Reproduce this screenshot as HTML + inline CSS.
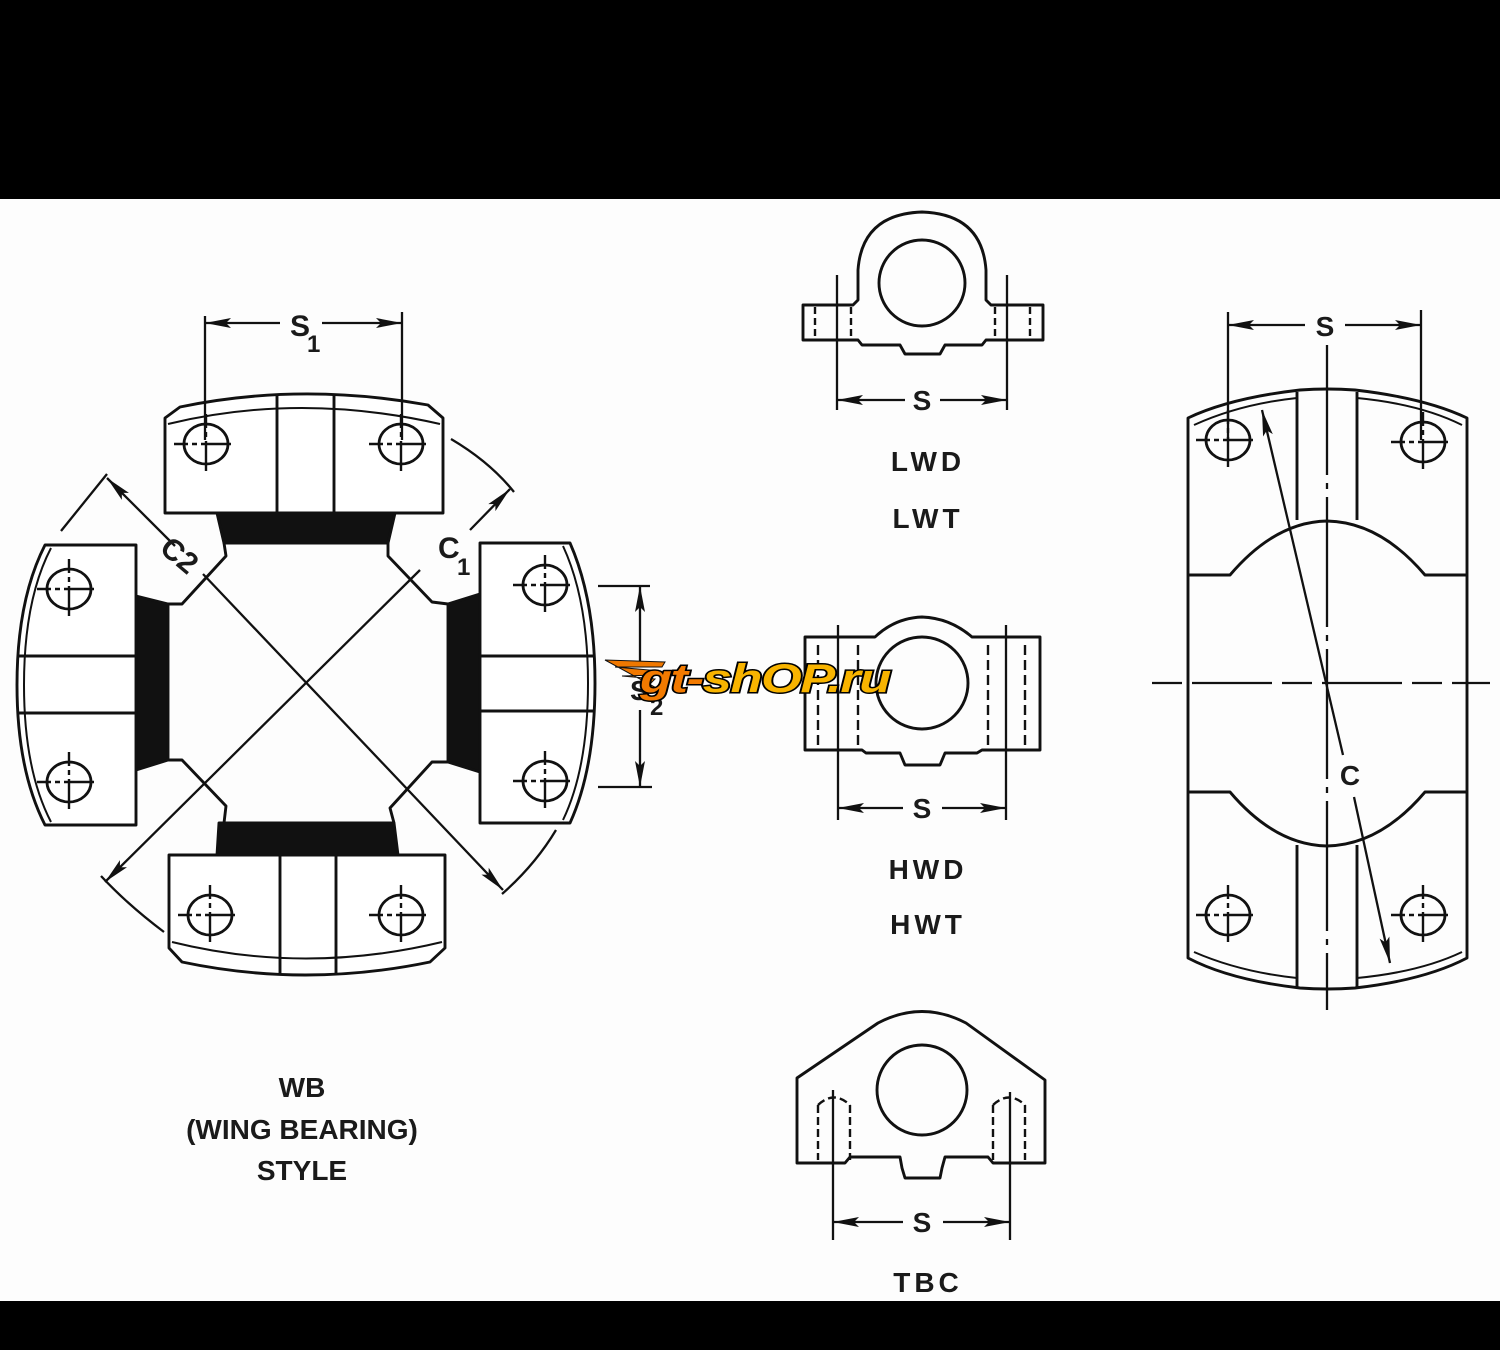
<!DOCTYPE html>
<html><head><meta charset="utf-8"><style>
html,body{margin:0;padding:0;background:#fff;}
svg{display:block;}
text{font-family:"Liberation Sans",sans-serif;fill:#1a1a1a;}
</style></head><body>
<svg width="1500" height="1350" viewBox="0 0 1500 1350" xmlns="http://www.w3.org/2000/svg">
<defs>
<marker id="ar" viewBox="0 0 26 12" refX="26" refY="6" markerWidth="26" markerHeight="12" markerUnits="userSpaceOnUse" orient="auto">
<path d="M0,1 L26,6 L0,11 L5,6 Z" fill="#111"/>
</marker>
<g id="hole">
<ellipse cx="0" cy="0" rx="22" ry="20" fill="none" stroke="#111" stroke-width="2.8"/>
<line x1="-32" y1="0" x2="32" y2="0" stroke="#111" stroke-width="2.4" stroke-dasharray="14,4,5,4,30"/>
<line x1="0" y1="-30" x2="0" y2="30" stroke="#111" stroke-width="2.4" stroke-dasharray="14,4,5,4,30"/>
</g>
</defs>
<rect x="0" y="0" width="1500" height="1350" fill="#fdfdfd"/>
<rect x="0" y="0" width="1500" height="199" fill="#000"/>
<rect x="0" y="1301" width="1500" height="49" fill="#000"/>

<g fill="none" stroke="#111" stroke-width="2.9" stroke-linejoin="round">
<path d="M217,513 L395,513 L388,543 L224,543 Z" fill="#111"/>
<path d="M219,823 L394,823 L398,855 L217,855 Z" fill="#111"/>
<path d="M136,596 L168,604 L168,760 L136,770 Z" fill="#111"/>
<path d="M448,604 L480,594 L480,772 L448,762 Z" fill="#111"/>
<path d="M224,543 L226,556 L182,604 L168,604"/>
<path d="M388,543 L388,556 L432,602 L448,604"/>
<path d="M168,760 L182,760 L226,806 L224,823"/>
<path d="M448,762 L432,762 L390,808 L394,823"/>
<path d="M165,513 L165,418 L180,407 Q300,382 428,405 L443,418 L443,513 Z" fill="#fff"/>
<path d="M168,424 Q300,392 440,424" stroke-width="2"/>
<line x1="277" y1="395" x2="277" y2="513"/><line x1="334" y1="395" x2="334" y2="513"/>
<path d="M169,855 L445,855 L445,948 L430,962 Q305,988 182,962 L169,948 Z" fill="#fff"/>
<path d="M172,942 Q305,975 442,942" stroke-width="2"/>
<line x1="280" y1="855" x2="280" y2="975"/><line x1="336" y1="855" x2="336" y2="975"/>
<path d="M136,545 L45,545 Q17,600 17,685 Q17,770 45,825 L136,825 Z" fill="#fff"/>
<path d="M51,548 Q24,600 24,685 Q24,770 51,822" stroke-width="2"/>
<line x1="18" y1="656" x2="136" y2="656"/><line x1="18" y1="713" x2="136" y2="713"/>
<path d="M480,543 L570,543 Q595,600 595,683 Q595,768 570,823 L480,823 Z" fill="#fff"/>
<path d="M563,546 Q588,600 588,683 Q588,768 563,820" stroke-width="2"/>
<line x1="480" y1="656" x2="595" y2="656"/><line x1="480" y1="711" x2="595" y2="711"/>
</g>
<use href="#hole" x="206" y="444"/><use href="#hole" x="401" y="444"/>
<use href="#hole" x="210" y="915"/><use href="#hole" x="401" y="915"/>
<use href="#hole" x="69" y="589"/><use href="#hole" x="69" y="782"/>
<use href="#hole" x="545" y="585"/><use href="#hole" x="545" y="781"/>

<g fill="none" stroke="#111" stroke-width="2.3">
<line x1="175" y1="546" x2="107" y2="478" marker-end="url(#ar)"/>
<line x1="203" y1="574" x2="503" y2="890" marker-end="url(#ar)"/>
<line x1="420" y1="570" x2="105" y2="882" marker-end="url(#ar)"/>
<line x1="470" y1="530" x2="510" y2="489" marker-end="url(#ar)"/>
<path d="M61,531 L107,474"/>
<path d="M451,439 Q490,462 514,492"/>
<path d="M101,876 Q128,905 164,932"/>
<path d="M556,830 Q535,865 502,894"/>
<line x1="205" y1="316" x2="205" y2="440"/><line x1="402" y1="312" x2="402" y2="440"/>
<line x1="280" y1="323" x2="205" y2="323" marker-end="url(#ar)"/>
<line x1="322" y1="323" x2="402" y2="323" marker-end="url(#ar)"/>
<line x1="598" y1="586" x2="650" y2="586"/><line x1="598" y1="787" x2="652" y2="787"/>
<line x1="640" y1="665" x2="640" y2="586" marker-end="url(#ar)"/>
<line x1="640" y1="710" x2="640" y2="787" marker-end="url(#ar)"/>
</g>
<g font-weight="bold">
<text x="290" y="336" font-size="30">S</text><text x="307" y="352" font-size="24">1</text>
<text x="160" y="566" font-size="30" transform="rotate(40 180 556)">C2</text>
<text x="438" y="558" font-size="30">C</text><text x="457" y="575" font-size="24">1</text>
<text x="630" y="700" font-size="28" fill="#555">S</text><text x="650" y="715" font-size="24" fill="#555">2</text>
</g>
<g font-weight="bold" font-size="28" text-anchor="middle">
<text x="302" y="1097">WB</text>
<text x="302" y="1139">(WING BEARING)</text>
<text x="302" y="1180">STYLE</text>
</g>

<!-- LWD -->
<g fill="none" stroke="#111" stroke-width="2.9" stroke-linejoin="round">
<path d="M803,305 L853,305 L858,300 L858,270 Q862,214 922,212 Q982,214 986,270 L986,300 L991,305 L1043,305 L1043,340 L986,340 L982,345 L945,345 L940,354 L905,354 L900,345 L862,345 L858,340 L803,340 Z"/>
<circle cx="922" cy="283" r="43"/>
<g stroke-width="2.4" stroke-dasharray="7,4"><line x1="815" y1="307" x2="815" y2="340"/><line x1="851" y1="307" x2="851" y2="340"/><line x1="995" y1="307" x2="995" y2="340"/><line x1="1030" y1="307" x2="1030" y2="340"/></g>
</g>
<g fill="none" stroke="#111" stroke-width="2.3">
<line x1="837" y1="275" x2="837" y2="410"/><line x1="1007" y1="275" x2="1007" y2="410"/>
<line x1="905" y1="400" x2="837" y2="400" marker-end="url(#ar)"/>
<line x1="940" y1="400" x2="1007" y2="400" marker-end="url(#ar)"/>
</g>
<g font-weight="bold">
<text x="922" y="410" font-size="28" text-anchor="middle">S</text>
<text x="922" y="818" font-size="28" text-anchor="middle">S</text>
<text x="922" y="1232" font-size="28" text-anchor="middle">S</text>
<text x="1325" y="336" font-size="28" text-anchor="middle">S</text>
<text x="1350" y="785" font-size="28" text-anchor="middle">C</text>
</g>
<g font-size="28" font-weight="bold" text-anchor="middle" letter-spacing="4">
<text x="928" y="471">LWD</text><text x="928" y="528">LWT</text>
<text x="928" y="879">HWD</text><text x="928" y="934">HWT</text>
<text x="928" y="1292">TBC</text>
</g>

<!-- HWD -->
<g fill="none" stroke="#111" stroke-width="2.9" stroke-linejoin="round">
<path d="M805,637 L875,637 Q895,618 922,617 Q950,618 972,637 L1040,637 L1040,750 L982,750 L977,753 L945,753 L940,765 L905,765 L900,753 L866,753 L862,750 L805,750 Z"/>
<circle cx="922" cy="683" r="46"/>
<g stroke-width="2.4" stroke-dasharray="10,5"><line x1="818" y1="645" x2="818" y2="750"/><line x1="858" y1="645" x2="858" y2="750"/><line x1="988" y1="645" x2="988" y2="750"/><line x1="1025" y1="645" x2="1025" y2="750"/></g>
</g>
<g fill="none" stroke="#111" stroke-width="2.3">
<line x1="838" y1="625" x2="838" y2="820"/><line x1="1006" y1="625" x2="1006" y2="820"/>
<line x1="903" y1="808" x2="838" y2="808" marker-end="url(#ar)"/>
<line x1="942" y1="808" x2="1006" y2="808" marker-end="url(#ar)"/>
</g>

<!-- TBC -->
<g fill="none" stroke="#111" stroke-width="2.9" stroke-linejoin="round">
<path d="M797,1078 L878,1023 Q922,1000 966,1023 L1045,1080 L1045,1163 L993,1163 L988,1157 L945,1157 L942,1168 L940,1178 L905,1178 L902,1168 L900,1157 L850,1157 L845,1163 L797,1163 Z"/>
<circle cx="922" cy="1090" r="45"/>
<g stroke-width="2.4" stroke-dasharray="8,4"><line x1="818" y1="1105" x2="818" y2="1160"/><line x1="850" y1="1105" x2="850" y2="1160"/><line x1="993" y1="1105" x2="993" y2="1160"/><line x1="1025" y1="1105" x2="1025" y2="1160"/>
<path d="M818,1105 Q834,1090 850,1105"/><path d="M993,1105 Q1009,1090 1025,1105"/></g>
</g>
<g fill="none" stroke="#111" stroke-width="2.3">
<line x1="833" y1="1090" x2="833" y2="1240"/><line x1="1010" y1="1092" x2="1010" y2="1240"/>
<line x1="903" y1="1222" x2="833" y2="1222" marker-end="url(#ar)"/>
<line x1="943" y1="1222" x2="1010" y2="1222" marker-end="url(#ar)"/>
</g>

<!-- Right view -->
<g fill="none" stroke="#111" stroke-width="2.9" stroke-linejoin="round">
<path d="M1188,418 Q1230,398 1300,390 Q1327,388 1355,390 Q1425,398 1467,418 L1467,958 Q1425,980 1355,988 Q1327,990 1300,988 Q1230,980 1188,958 Z"/>
<path d="M1194,425 Q1240,404 1297,398 M1357,398 Q1420,404 1462,425" stroke-width="2"/>
<path d="M1194,952 Q1240,972 1297,978 M1357,978 Q1420,972 1462,952" stroke-width="2"/>
<line x1="1297" y1="392" x2="1297" y2="520"/><line x1="1357" y1="392" x2="1357" y2="520"/>
<line x1="1297" y1="845" x2="1297" y2="988"/><line x1="1357" y1="845" x2="1357" y2="988"/>
<path d="M1188,575 L1230,575 Q1275,522 1327,521 Q1380,522 1425,575 L1467,575"/>
<path d="M1188,792 L1230,792 Q1275,845 1327,846 Q1380,845 1425,792 L1467,792"/>
</g>
<g fill="none" stroke="#111" stroke-width="2.3">
<line x1="1327" y1="345" x2="1327" y2="1010" stroke-dasharray="130,8,6,8"/>
<line x1="1152" y1="683" x2="1490" y2="683" stroke-dasharray="30,10,80,10"/>
<line x1="1228" y1="312" x2="1228" y2="440"/><line x1="1421" y1="310" x2="1421" y2="440"/>
<line x1="1305" y1="325" x2="1228" y2="325" marker-end="url(#ar)"/>
<line x1="1345" y1="325" x2="1421" y2="325" marker-end="url(#ar)"/>
<line x1="1343" y1="755" x2="1262" y2="410" marker-end="url(#ar)"/>
<line x1="1354" y1="797" x2="1390" y2="963" marker-end="url(#ar)"/>
</g>
<use href="#hole" x="1228" y="440"/><use href="#hole" x="1423" y="442"/>
<use href="#hole" x="1228" y="915"/><use href="#hole" x="1423" y="915"/>

<!-- watermark -->
<g>
<path d="M605,660 L665,662 L662,667 L615,667 L660,671 L657,675 L622,676 L655,679 L650,684 L640,690 L660,690 Z" fill="#f07800" stroke="#111" stroke-width="1"/>
<text x="640" y="692" font-size="40" font-weight="bold" font-style="italic" stroke="#000" stroke-width="3" paint-order="stroke" letter-spacing="-1" textLength="250" lengthAdjust="spacingAndGlyphs"><tspan fill="#f27a00">gt-</tspan><tspan fill="#f8b400">shOP.ru</tspan></text>
</g>
</svg>
</body></html>
